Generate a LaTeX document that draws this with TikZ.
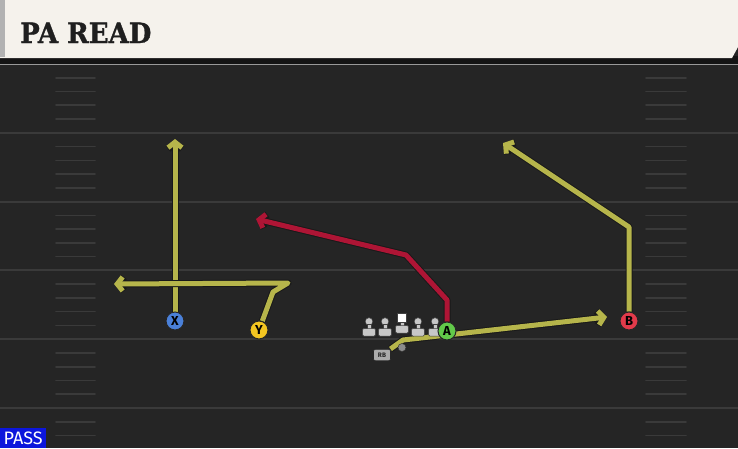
\documentclass[tikz,border=0pt]{standalone}
\usepackage{fontspec}
\newfontfamily\titlefont{DejaVu Serif}[BoldFont={DejaVu Serif Bold}, BoldFeatures={FakeBold=1.2}]
\newfontfamily\tagfont{Fira Sans}
\usetikzlibrary{arrows.meta}

\definecolor{turf}{HTML}{252525}
\definecolor{yardgray}{HTML}{3A3A3A}
\definecolor{bannercream}{HTML}{F5F2EC}
\definecolor{routeolive}{HTML}{B6B54B}
\definecolor{routered}{HTML}{AE1535}
\definecolor{xblue}{HTML}{4A80D8}
\definecolor{yyellow}{HTML}{F2C521}
\definecolor{agreen}{HTML}{62C94A}
\definecolor{bred}{HTML}{E23A4A}
\definecolor{passblue}{HTML}{0C16DC}

\pgfdeclarelayer{field}
\pgfdeclarelayer{routes}
\pgfsetlayers{field,routes,main}

\begin{document}
\begin{tikzpicture}[x=1pt,y=-1pt]

    \tikzstyle{player}=[circle, draw=black!85, line width=1pt, fill=#1, minimum size=18pt,
                        inner sep=0pt, font=\tagfont\bfseries\fontsize{13}{13}\selectfont]
    \tikzstyle{route}=[line width=5pt, line join=round, draw=#1,
                       -{Straight Barb[length=5.5pt,width=14pt]},
                       preaction={draw=black!90, line width=7pt, line join=round}]
    \tikzstyle{lineman}=[fill=black!22, draw=black!75, line width=0.5pt]

    \useasboundingbox (0,0) rectangle (738,448);

    % field
    \begin{pgfonlayer}{field}
        \fill[turf] (0,0) rectangle (738,448);
        \foreach \yl in {132.8,201.6,270.4,339.2,408}
            \draw[yardgray, line width=2pt] (0,\yl) -- (738,\yl);
        \foreach \k in {1,2,3,4,6,7,8,9,11,12,13,14,16,17,18,19,21,22,23,24,26,27}
            \draw[yardgray, line width=1.6pt, line cap=round] (56,64+13.76*\k) -- (95,64+13.76*\k)
                                                               (646,64+13.76*\k) -- (686,64+13.76*\k);
        \fill[black!40] (0,63.5) rectangle (738,65);
    \end{pgfonlayer}

    % banner
    \fill[black!92] (0,56) rectangle (738,63.5);
    \fill[bannercream] (0,0) -- (738,0) -- (738,47) -- (732,58) -- (0,58) -- cycle;
    \fill[black!30] (0,0) rectangle (5,57);
    \node[anchor=base west, font=\titlefont\bfseries\fontsize{28}{28}\selectfont, text=black!88,
          inner sep=0pt, xscale=0.93, transform shape] (title) at (20,43) {PA READ};

    % line
    \foreach \lx in {369,385,418,435} {
        \filldraw[lineman] (\lx,321.5) circle (3.8);
        \filldraw[lineman] (\lx-1.8,324.5) rectangle (\lx+1.8,329);
        \filldraw[lineman, rounded corners=1pt] (\lx-6.3,328.5) rectangle (\lx+6.3,336);
    }
    \filldraw[lineman] (400.2,322) rectangle (403.8,326);
    \filldraw[fill=white, draw=black!75, line width=0.5pt] (397.5,313.5) rectangle (406.5,322.5);
    \filldraw[lineman, rounded corners=1pt] (395.7,325.5) rectangle (408.3,333);

    \filldraw[fill=black!45, draw=black!80, line width=0.5pt] (402,347.5) circle (4);

    % players
    \node[player=xblue]   (x) at (175,321) {X};
    \node[player=yyellow] (y) at (259,330) {Y};
    \node[player=agreen]  (a) at (447,331) {A};
    \node[player=bred]    (b) at (629,321) {B};
    \node[rectangle, rounded corners=2pt, fill=black!33, draw=black!85, line width=0.6pt,
          minimum width=17pt, minimum height=11.5pt, inner sep=0pt, text=black!85,
          font=\tagfont\bfseries\fontsize{6.5}{6.5}\selectfont] (rb) at (382,355) {RB};

    \node[fill=passblue, text=white, anchor=south west, minimum width=46pt, minimum height=20pt,
          inner sep=0pt, font=\tagfont\fontsize{18}{18}\selectfont] (pass) at (0,448) {PASS};

    % route points
    \coordinate (xdeep)   at (175,139);
    \coordinate (ybreak)  at (273,292);
    \coordinate (ycorner) at (288,283);
    \coordinate (yout)    at (114,284);
    \coordinate (aup)     at (447,300);
    \coordinate (abreak)  at (406,255);
    \coordinate (adeep)   at (256,219);
    \coordinate (bup)     at (629,227);
    \coordinate (bdeep)   at (503,143);
    \coordinate (rbcut)   at (403,340);
    \coordinate (rbflat)  at (607,317);

    % routes
    \begin{pgfonlayer}{routes}
        \draw[route=routeolive] (x) -- (xdeep);
        \draw[route=routeolive] (y) -- (ybreak) -- (ycorner) -- (yout);
        \draw[route=routered]   (a) -- (aup) -- (abreak) -- (adeep);
        \draw[route=routeolive] (b) -- (bup) -- (bdeep);
        \draw[route=routeolive] (rb) -- (rbcut) -- (rbflat);
    \end{pgfonlayer}

\end{tikzpicture}
\end{document}
